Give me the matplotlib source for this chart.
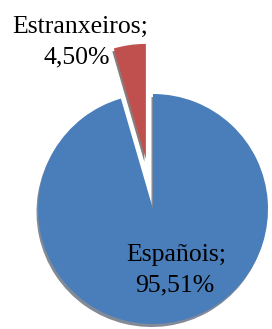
import matplotlib
matplotlib.use("Agg")
import matplotlib.pyplot as plt

categories = ["Estranxeiros", "Españois"]
values = [4.50, 95.51]
value_labels = ["4,50%", "95,51%"]
colors = ["#C0504D", "#4A7EBB"]
explode_frac = [0.44, 0.0]

W, H = 272, 329
fig = plt.figure(figsize=(W / 100, H / 100), dpi=100)
ax = fig.add_axes([0, 0, 1, 1])

cx, cy, r = 153, 120, 115

# shadow
ax.pie(values, startangle=90, counterclock=True, radius=r,
       center=(cx - 1.5, cy - 3), explode=[e * r for e in explode_frac],
       colors=["#2a0f0f", "#1a2a40"], frame=True,
       wedgeprops=dict(linewidth=0, alpha=0.55))
# main
ax.pie(values, startangle=90, counterclock=True, radius=r,
       center=(cx, cy), explode=[e * r for e in explode_frac],
       colors=colors, frame=True,
       wedgeprops=dict(linewidth=0))
ax.set_xlim(0, W)
ax.set_ylim(0, H)
ax.set_aspect("equal")
ax.axis("off")

font = dict(family="Liberation Serif", fontsize=18.5, color="black")
# Estranxeiros label
ax.text(80, H - 33, categories[0] + ";", ha="center", va="baseline", **font)
ax.text(77, H - 63, value_labels[0], ha="center", va="baseline", **font)
# Españois label
ax.text(176, H - 261, categories[1] + ";", ha="center", va="baseline", **font)
ax.text(175, H - 291, value_labels[1], ha="center", va="baseline", **font)

fig.savefig("out.png", dpi=100)
